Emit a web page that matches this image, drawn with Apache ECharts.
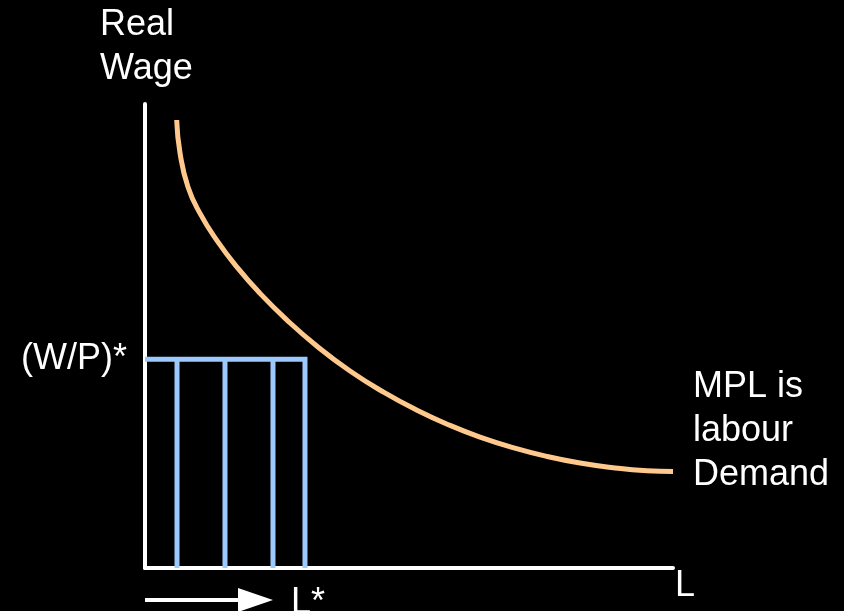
<!DOCTYPE html>
<html>
<head>
<meta charset="utf-8">
<script src="https://cdn.jsdelivr.net/npm/echarts@6/dist/echarts.min.js"></script>
<style>
html,body{margin:0;padding:0;background:#000;}
#chart{width:844px;height:611px;}
</style>
</head>
<body>
<div id="chart"></div>
<script>
// Labour demand (MPL) curve: L (x) vs real wage (y), in chart units 0..100
const curveL = [6.0, 6.63, 8.14, 10.42, 13.64, 17.42, 21.78, 26.89, 32.58, 38.83, 45.27, 51.52, 57.77, 63.45, 69.70, 76.14, 82.39, 88.64, 95.08, 100];
const curveW = [96.55, 89.44, 82.11, 76.42, 70.56, 64.83, 59.18, 53.43, 47.80, 42.46, 37.84, 34.01, 30.73, 28.21, 25.93, 24.03, 22.61, 21.62, 20.95, 20.78];
// equilibrium
const lStar = 30.3;
const wStar = 45;
// intermediate labour levels (vertical blue lines)
const steps = [6.06, 15.15, 24.24];
// arrow below the L axis
const arrowY = -6.9;
const arrowFrom = 0;
const arrowTo = 24.24;
// texts
const yAxisTitle = 'Real\nWage';
const xAxisTitle = 'L';
const yTickLabel = '(W/P)*';
const xTickLabel = 'L*';
const curveLabel = 'MPL is\nlabour\nDemand';

const FONT = '"Liberation Sans", Arial, sans-serif';
const BLUE = '#9ccaff';
const ORANGE = '#ffc88c';

const series = [];
series.push({
  type: 'line',
  data: curveL.map((l, i) => [l, curveW[i]]),
  smooth: 0.5,
  symbol: 'none',
  lineStyle: { color: ORANGE, width: 5 },
  z: 3,
  endLabel: {
    show: true,
    formatter: curveLabel,
    color: '#fff',
    fontFamily: FONT,
    fontSize: 36,
    lineHeight: 44,
    distance: 20,
    align: 'left',
    verticalAlign: 'bottom',
    offset: [0, 25]
  }
});
steps.forEach(x => {
  series.push({
    type: 'line',
    data: [[x, 0], [x, wStar]],
    symbol: 'none',
    lineStyle: { color: BLUE, width: 5 },
    z: 2
  });
});
series.push({
  type: 'line',
  data: [[0, wStar], [lStar, wStar], [lStar, 0]],
  symbol: 'none',
  lineStyle: { color: BLUE, width: 5, join: 'miter' },
  z: 2
});
series.push({
  type: 'custom',
  clip: false,
  data: [[arrowFrom, arrowY, arrowTo]],
  renderItem: function (params, api) {
    const p0 = api.coord([api.value(0), api.value(1)]);
    const p1 = api.coord([api.value(2), api.value(1)]);
    const headLen = 35, headHalf = 12;
    return {
      type: 'group',
      children: [
        { type: 'line', shape: { x1: p0[0], y1: p0[1], x2: p1[0] - headLen + 1, y2: p1[1] },
          style: { stroke: '#fff', lineWidth: 4 } },
        { type: 'polygon', shape: { points: [[p1[0] - headLen, p1[1] - headHalf], [p1[0], p1[1]], [p1[0] - headLen, p1[1] + headHalf]] },
          style: { fill: '#fff' } }
      ]
    };
  }
});

const chart = echarts.init(document.getElementById('chart'));
chart.setOption({
  backgroundColor: '#000',
  animation: false,
  title: {
    text: yAxisTitle,
    left: 100,
    top: 3,
    padding: 0,
    textStyle: { color: '#fff', fontFamily: FONT, fontSize: 36, fontWeight: 'normal', lineHeight: 44 }
  },
  grid: { left: 145, right: 171, top: 104, bottom: 43, containLabel: false, outerBoundsMode: 'none' },
  xAxis: {
    type: 'value',
    min: 0, max: 100,
    name: xAxisTitle,
    nameLocation: 'end',
    nameGap: 2,
    nameTextStyle: { color: '#fff', fontFamily: FONT, fontSize: 36, verticalAlign: 'top', align: 'left', padding: [0, 0, 0, 0] },
    axisLine: { show: true, onZero: false, lineStyle: { color: '#fff', width: 4 } },
    axisTick: { show: false },
    splitLine: { show: false },
    axisLabel: {
      show: true,
      customValues: [lStar],
      formatter: () => xTickLabel,
      color: '#fff',
      fontFamily: FONT,
      fontSize: 36,
      margin: 17,
      padding: [0, 0, 0, 6]
    }
  },
  yAxis: {
    type: 'value',
    min: 0, max: 100,
    axisLine: { show: true, onZero: false, lineStyle: { color: '#fff', width: 4 } },
    axisTick: { show: false },
    splitLine: { show: false },
    axisLabel: {
      show: true,
      customValues: [wStar],
      formatter: () => yTickLabel,
      color: '#fff',
      fontFamily: FONT,
      fontSize: 36,
      margin: 18,
      padding: [4, 0, 0, 0]
    }
  },
  series: series
});
</script>
</body>
</html>
